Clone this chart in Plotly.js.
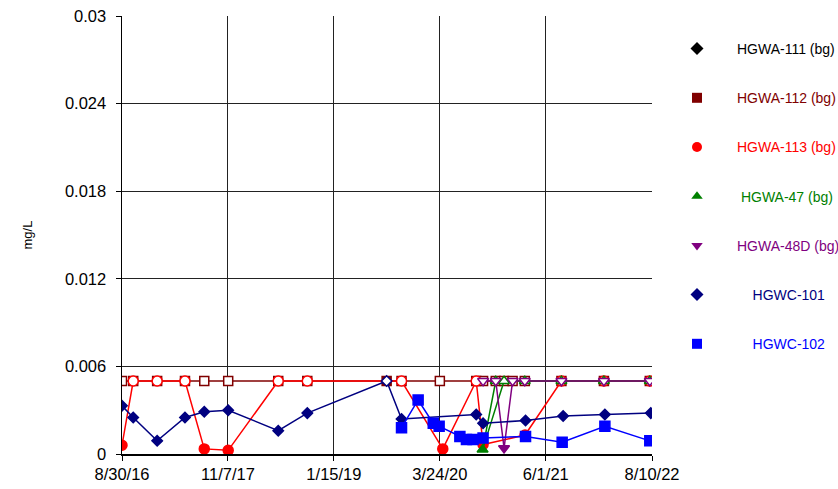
<!DOCTYPE html>
<html>
<head>
<meta charset="utf-8">
<script src="https://cdn.plot.ly/plotly-3.0.1.min.js"></script>
<style>html,body{margin:0;padding:0;background:#fff;}#chart{width:838px;height:489px;}</style>
</head>
<body>
<div id="chart"></div>
<script>
// ---- data ----
var xTickVals = ['2016-08-30', '2017-11-07', '2019-01-15', '2020-03-24', '2021-06-01', '2022-08-10'];
var xTickText = ['8/30/16', '11/7/17', '1/15/19', '3/24/20', '6/1/21', '8/10/22'];
var yTickVals = [0, 0.006, 0.012, 0.018, 0.024, 0.03];
var yTickText = ['0', '0.006', '0.012', '0.018', '0.024', '0.03'];

var names = ['HGWA-111 (bg)', 'HGWA-112 (bg)', 'HGWA-113 (bg)', 'HGWA-47 (bg)', 'HGWA-48D (bg)', 'HGWC-101', 'HGWC-102'];

var dates111 = [];
var vals111 = [];
var nd111 = [];

var dates112 = ['2016-08-30', '2016-10-15', '2017-01-21', '2017-05-15', '2017-08-02', '2017-11-08', '2018-06-01', '2018-09-28', '2019-08-19', '2019-10-19', '2020-03-24', '2020-08-20', '2020-09-17', '2020-11-08', '2020-12-12', '2021-01-16', '2021-03-07', '2021-08-04', '2022-01-25', '2022-08-01'];
var vals112 = [0.005, 0.005, 0.005, 0.005, 0.005, 0.005, 0.005, 0.005, 0.005, 0.005, 0.005, 0.005, 0.005, 0.005, 0.005, 0.005, 0.005, 0.005, 0.005, 0.005];
var nd112 = [true, true, true, true, true, true, true, true, false, true, true, true, true, true, true, true, true, true, true, true];

var dates113 = ['2016-08-30', '2016-10-15', '2017-01-21', '2017-05-15', '2017-08-02', '2017-11-08', '2018-06-01', '2018-09-28', '2019-10-19', '2020-04-05', '2020-08-20', '2020-09-17', '2021-03-08', '2021-08-04', '2022-01-25', '2022-08-01'];
var vals113 = [0.0006, 0.005, 0.005, 0.005, 0.00035, 0.00025, 0.005, 0.005, 0.005, 0.00035, 0.005, 0.00065, 0.0013, 0.005, 0.005, 0.005];
var nd113 = [false, true, true, true, false, false, true, true, true, false, true, false, false, true, true, true];

var dates47 = ['2020-11-08', '2020-09-15', '2020-12-12', '2021-03-07', '2021-08-04', '2022-01-25', '2022-08-01'];
var vals47 = [0.005, 0.0003, 0.005, 0.005, 0.005, 0.005, 0.005];
var nd47 = [true, false, true, true, true, true, true];

var dates48D = ['2020-09-17', '2020-11-08', '2020-12-12', '2021-01-16', '2021-03-07', '2021-08-04', '2022-01-25', '2022-08-01'];
var vals48D = [0.005, 0.005, 0.0004, 0.005, 0.005, 0.005, 0.005, 0.005];
var nd48D = [true, true, false, true, true, true, true, true];

var dates101 = ['2016-08-30', '2016-10-15', '2017-01-21', '2017-05-15', '2017-08-02', '2017-11-08', '2018-06-01', '2018-09-28', '2019-08-19', '2019-10-19', '2020-08-20', '2020-09-17', '2021-03-10', '2021-08-11', '2022-01-29', '2022-08-05'];
var vals101 = [0.0033, 0.0025, 0.0009, 0.0025, 0.0029, 0.003, 0.0016, 0.0028, 0.005, 0.0024, 0.0027, 0.0021, 0.0023, 0.0026, 0.0027, 0.0028];
var nd101 = [false, false, false, false, false, false, false, false, true, false, false, false, false, false, false, false];

var dates102 = ['2019-10-19', '2019-12-26', '2020-02-26', '2020-03-21', '2020-06-14', '2020-07-11', '2020-08-07', '2020-09-17', '2021-03-10', '2021-08-07', '2022-01-29', '2022-08-01'];
var vals102 = [0.0018, 0.0037, 0.0021, 0.0019, 0.0012, 0.001, 0.001, 0.0011, 0.0012, 0.0008, 0.0019, 0.0009];
var nd102 = [false, false, false, false, false, false, false, false, false, false, false, false];

// ---- styles ----
var colors = ['#000000', '#800000', '#FF0000', '#008000', '#800080', '#000080', '#0000FF'];
var symbols = ['diamond', 'square', 'circle', 'triangle-up', 'triangle-down', 'diamond', 'square'];
var sizes = [8, 9, 10, 9.5, 9.5, 8, 10];
var legendPad = ['', '', '', '\u00a0', '', '\u00a0\u00a0\u00a0\u00a0', '\u00a0\u00a0\u00a0\u00a0'];

var allDates = [dates111, dates112, dates113, dates47, dates48D, dates101, dates102];
var allVals = [vals111, vals112, vals113, vals47, vals48D, vals101, vals102];
var allND = [nd111, nd112, nd113, nd47, nd48D, nd101, nd102];

var traces = [];
var legendTraces = [];
for (var i = 0; i < names.length; i++) {
  var fills = allND[i].map(function (nd) { return nd ? '#FFFFFF' : colors[i]; });
  traces.push({
    type: 'scatter', mode: 'lines+markers',
    x: allDates[i], y: allVals[i],
    name: names[i], legendgroup: 'g' + i, showlegend: false,
    line: {color: colors[i], width: 1.5},
    marker: {symbol: symbols[i], size: sizes[i], color: fills, line: {color: colors[i], width: 1.5}},
    hoverinfo: 'x+y+name'
  });
  legendTraces.push({
    type: 'scatter', mode: 'markers',
    x: [null], y: [null],
    name: legendPad[i] + '<span style="color:' + colors[i] + '">' + names[i] + '</span>',
    legendgroup: 'g' + i, showlegend: true,
    marker: {symbol: symbols[i], size: 10, color: colors[i], line: {color: colors[i], width: 0}}
  });
}

var layout = {
  width: 838, height: 489,
  margin: {l: 122, r: 186, t: 16, b: 35},
  paper_bgcolor: '#FFFFFF', plot_bgcolor: '#FFFFFF',
  font: {family: 'Liberation Sans, Arial, sans-serif', color: '#000000', size: 16},
  showlegend: true,
  legend: {
    xref: 'container', yref: 'container',
    x: 657 / 838, y: 1 - 33 / 489, xanchor: 'left', yanchor: 'top',
    itemwidth: 70, tracegroupgap: 28, maxheight: 450,
    font: {size: 14, family: 'Liberation Sans, Arial, sans-serif'},
    bgcolor: 'rgba(0,0,0,0)', borderwidth: 0
  },
  xaxis: {
    type: 'date',
    range: ['2016-08-30', '2022-08-10'],
    tickmode: 'array', tickvals: xTickVals, ticktext: xTickText,
    showgrid: true, gridcolor: '#222222', gridwidth: 1,
    showline: true, linecolor: '#000000', linewidth: 1.5, mirror: false,
    ticks: 'outside', ticklen: 5, tickcolor: '#000000', tickwidth: 1,
    tickfont: {size: 16.5}, zeroline: false
  },
  yaxis: {
    range: [0, 0.03],
    tickmode: 'array', tickvals: yTickVals, ticktext: yTickText,
    showgrid: true, gridcolor: '#222222', gridwidth: 1,
    showline: true, linecolor: '#000000', linewidth: 1.5,
    ticks: 'outside', ticklen: 5, tickcolor: '#000000', tickwidth: 1,
    tickfont: {size: 16.5}, ticklabelstandoff: 6, zeroline: false,
    title: {text: 'mg/L', font: {size: 13}, standoff: 29}
  }
};

Plotly.newPlot('chart', traces.concat(legendTraces), layout, {staticPlot: true, displayModeBar: false});
</script>
</body>
</html>
